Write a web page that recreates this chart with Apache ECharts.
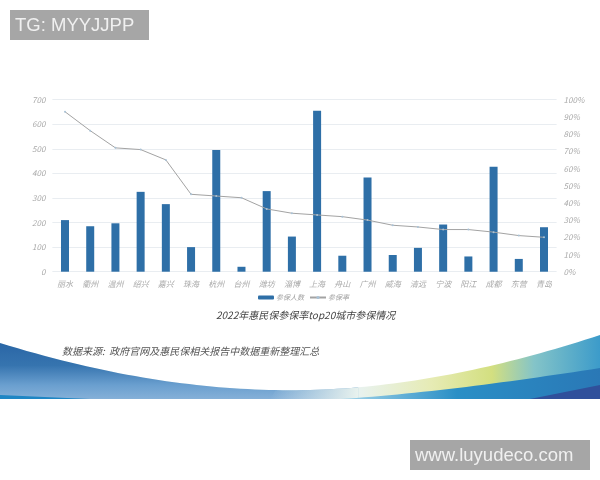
<!DOCTYPE html>
<html>
<head>
<meta charset="utf-8">
<script src="https://cdn.jsdelivr.net/npm/echarts@6/dist/echarts.min.js"></script>
<style>
html, body { margin: 0; padding: 0; background: #fff; }
#chart { width: 600px; height: 480px; }
</style>
</head>
<body>
<div id="chart"></div>
<script>
// data
const cities = ['丽水', '衢州', '温州', '绍兴', '嘉兴', '珠海', '杭州', '台州', '潍坊', '淄博', '上海', '舟山', '广州', '威海', '清远', '宁波', '阳江', '成都', '东营', '青岛'];
const people = [210, 185, 197, 325, 275, 100, 495, 20, 328, 143, 655, 65, 383, 68, 97, 192, 62, 427, 52, 181];
const rate = [93, 82, 72, 71, 65, 45, 44, 43, 36.5, 34, 33, 32, 30, 27, 26, 24.5, 24.5, 23, 21, 20];

const labelColor = '#a9a9a9';
const cjk = '"Noto Sans CJK SC", sans-serif';

// sample a cubic bezier, used only for the decorative band at the bottom
function curve(p0, p1, p2, p3, n) {
    const pts = [];
    for (let i = 0; i <= n; i++) {
        const t = i / n, u = 1 - t;
        pts.push([
            u * u * u * p0[0] + 3 * u * u * t * p1[0] + 3 * u * t * t * p2[0] + t * t * t * p3[0],
            u * u * u * p0[1] + 3 * u * u * t * p1[1] + 3 * u * t * t * p2[1] + t * t * t * p3[1]
        ]);
    }
    return pts;
}
const arcLeft = curve([0, 343], [120, 380], [220, 392], [310, 390], 40);
const arcRight = curve([310, 390], [400, 388], [500, 368], [600, 335], 40);
const bandTop = curve([340, 399], [420, 394], [510, 382], [600, 368], 30);
const arcFade = arcRight.filter(p => p[0] <= 360);
const fadeEnd = arcFade[arcFade.length - 1][0];

function poly(points, fill, z) {
    return { type: 'polygon', silent: true, z: z, shape: { points: points }, style: { fill: fill } };
}
function hGrad(x0, x1, stops) {
    return new echarts.graphic.LinearGradient(x0, 0, x1, 0, stops, true);
}

const graphic = [
    // yellow / light part of the band
    poly(arcLeft.concat(arcRight, [[600, 399], [0, 399]]), hGrad(0, 600, [
        { offset: 0, color: '#e8f2ee' },
        { offset: 0.6, color: '#e8f2ee' },
        { offset: 0.72, color: '#e6ebb4' },
        { offset: 0.82, color: '#d3df80' },
        { offset: 0.89, color: '#84c4c8' },
        { offset: 1, color: '#3c9bca' }
    ]), 1),
    // blue left part
    poly(arcLeft.concat(arcFade, [[fadeEnd, 399], [0, 399]]), new echarts.graphic.LinearGradient(0, 343, 0, 399, [
        { offset: 0, color: '#2a66a6' },
        { offset: 0.4, color: '#3674af' },
        { offset: 0.75, color: '#6a9fcf' },
        { offset: 1, color: '#85b0d8' }
    ], true), 2),
    // fades the blue into the light part
    poly(arcLeft.filter(p => p[0] >= 270).concat(arcFade, [[fadeEnd, 399], [270, 399]]), hGrad(270, fadeEnd, [
        { offset: 0, color: 'rgba(232,242,238,0)' },
        { offset: 1, color: 'rgba(232,242,238,1)' }
    ]), 2.5),
    poly(bandTop.concat([[600, 399]]), hGrad(340, 600, [
        { offset: 0, color: '#a5d6ea' },
        { offset: 0.45, color: '#2a8fc6' },
        { offset: 1, color: '#2a78b6' }
    ]), 3),
    poly([[530, 399], [565, 392], [600, 385], [600, 399]], '#30509b', 4),
    poly([[0, 395], [67, 398], [90, 399], [0, 399]], '#1f86c4', 4),
    // source note
    {
        type: 'text', left: 62, top: 346, z: 10,
        style: { text: '数据来源:  政府官网及惠民保相关报告中数据重新整理汇总', fill: '#555', font: 'italic 10px ' + cjk }
    },
    // watermarks
    { type: 'rect', z: 20, shape: { x: 10, y: 10, width: 139, height: 30 }, style: { fill: '#a6a6a6' } },
    { type: 'text', left: 15, top: 16, z: 21, style: { text: 'TG: MYYJJPP', fill: '#f0f0f0', font: '18.5px "Liberation Sans"' } },
    { type: 'rect', z: 20, shape: { x: 410, y: 440, width: 180, height: 30 }, style: { fill: '#a6a6a6' } },
    { type: 'text', left: 415, top: 446, z: 21, style: { text: 'www.luyudeco.com', fill: '#f0f0f0', font: '18.5px "Liberation Sans"' } }
];

const axisText = { color: labelColor, fontSize: 8, fontStyle: 'italic', fontFamily: cjk };

const option = {
    animation: false,
    backgroundColor: '#fff',
    title: {
        text: '2022年惠民保参保率top20城市参保情况',
        left: 211,
        top: 305,
        textStyle: { color: '#444', fontSize: 10, fontWeight: 'normal', fontStyle: 'italic', fontFamily: cjk }
    },
    legend: {
        top: 289,
        left: 253,
        itemGap: 5,
        itemWidth: 16,
        itemHeight: 4,
        textStyle: { color: '#a0a0a0', fontSize: 7, fontStyle: 'italic', fontFamily: cjk, padding: [0, 0, 0, -3] },
        data: ['参保人数', '参保率']
    },
    grid: { left: 52.4, right: 43.4, top: 99.7, height: 172 },
    xAxis: {
        type: 'category',
        data: cities,
        axisLine: { show: false },
        axisTick: { show: false },
        axisLabel: Object.assign({ interval: 0, margin: 8 }, axisText)
    },
    yAxis: [
        {
            type: 'value', min: 0, max: 700, interval: 100,
            axisLine: { show: false },
            axisTick: { show: false },
            axisLabel: Object.assign({ margin: 7 }, axisText),
            splitLine: { lineStyle: { color: '#e9edf1', width: 1 } }
        },
        {
            type: 'value', min: 0, max: 100, interval: 10,
            axisLine: { show: false },
            axisTick: { show: false },
            axisLabel: Object.assign({ margin: 7, formatter: '{value}%' }, axisText),
            splitLine: { show: false }
        }
    ],
    series: [
        {
            name: '参保人数', type: 'bar', data: people, barWidth: 8,
            itemStyle: { color: '#2e6fa7' }
        },
        {
            name: '参保率', type: 'line', yAxisIndex: 1, data: rate,
            symbol: 'circle', symbolSize: 2, showSymbol: true,
            lineStyle: { color: '#a3a3a3', width: 1 },
            itemStyle: { color: '#a9c2d6' }
        }
    ],
    graphic: graphic
};

echarts.init(document.getElementById('chart'), null, { renderer: 'canvas' }).setOption(option);
</script>
</body>
</html>
